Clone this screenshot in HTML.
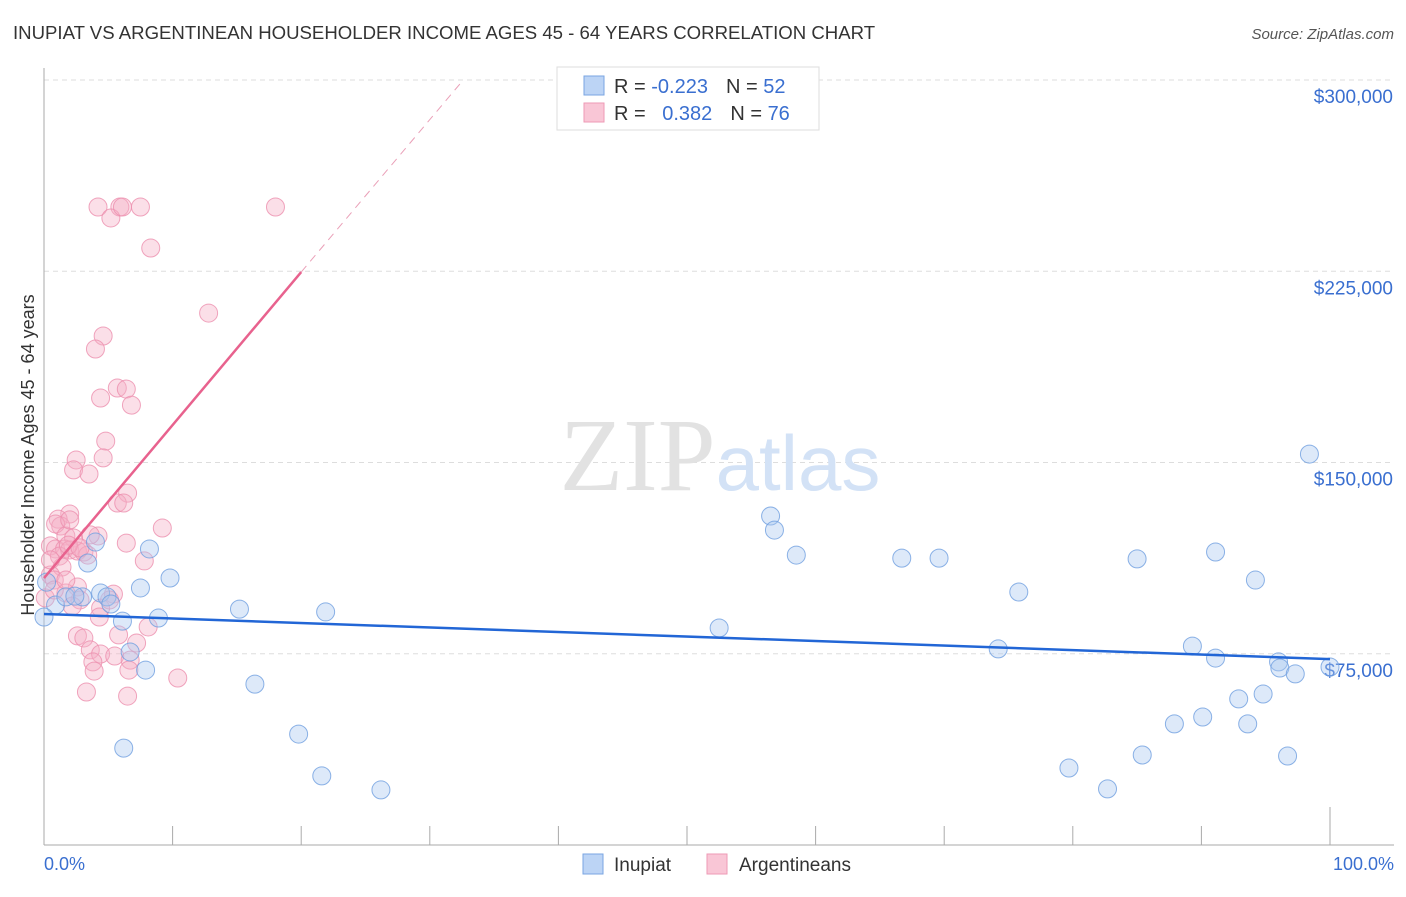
<!DOCTYPE html>
<html><head><meta charset="utf-8"><style>
body{margin:0;background:#fff;font-family:"Liberation Sans",sans-serif}
</style></head><body>
<svg id="chart" width="1406" height="892" xmlns="http://www.w3.org/2000/svg" font-family="Liberation Sans, sans-serif">
<text x="13" y="39" font-size="18.6" fill="#333">INUPIAT VS ARGENTINEAN HOUSEHOLDER INCOME AGES 45 - 64 YEARS CORRELATION CHART</text>
<text x="1394" y="39" font-size="15" fill="#555" text-anchor="end" font-style="italic">Source: ZipAtlas.com</text>
<g id="grid"></g>
<text x="720" y="490" font-size="104" text-anchor="middle" fill="#e2e2e2" font-family="Liberation Serif, serif">ZIP<tspan fill="#d3e2f6" font-family="Liberation Sans, sans-serif" font-size="78">atlas</tspan></text>
<g id="axes"></g>
<g id="marks"></g>
<text transform="translate(34,455) rotate(-90)" font-size="18" fill="#333" text-anchor="middle">Householder Income Ages 45 - 64 years</text>
<text x="44" y="870" font-size="18" fill="#3a6fd0">0.0%</text>
<text x="1394" y="870" font-size="18" fill="#3a6fd0" text-anchor="end">100.0%</text>
<g>
<rect x="557" y="67" width="262" height="63" fill="#fff" stroke="#ddd"/>
<rect x="584" y="76" width="20" height="19" fill="#bcd4f5" stroke="#7aa5e2"/>
<rect x="584" y="103" width="20" height="19" fill="#f9c6d6" stroke="#ee9ab5"/>
<text x="614" y="93" font-size="20" fill="#333">R = <tspan fill="#3a6fd0">-0.223</tspan><tspan dx="18">N = </tspan><tspan fill="#3a6fd0">52</tspan></text>
<text x="614" y="120" font-size="20" fill="#333">R = <tspan fill="#3a6fd0" dx="11">0.382</tspan><tspan dx="18">N = </tspan><tspan fill="#3a6fd0">76</tspan></text>
</g>
<g>
<rect x="583" y="854" width="20" height="20" fill="#bcd4f5" stroke="#7aa5e2"/>
<text x="614" y="871" font-size="19" fill="#333">Inupiat</text>
<rect x="707" y="854" width="20" height="20" fill="#f9c6d6" stroke="#ee9ab5"/>
<text x="739" y="871" font-size="19" fill="#333">Argentineans</text>
</g>
</svg>
<script>
const yTicks=[75000,150000,225000,300000];
const yTickLabels=["$75,000","$150,000","$225,000","$300,000"];
const inupiatX=[0.9,1.7,3.0,3.4,4.0,4.4,4.9,5.2,6.1,6.2,6.7,7.5,7.9,8.2,8.9,9.8,15.2,16.4,19.8,21.6,21.9,26.2,52.5,56.5,56.8,58.5,66.7,69.6,74.2,75.8,79.7,82.7,85.0,85.4,87.9,89.3,90.1,91.1,91.1,92.9,93.6,94.2,94.8,96.0,96.1,96.7,97.3,98.4,100,0,0.2,2.4];
const inupiatY=[94100,97300,97300,110600,118800,98800,97300,94500,87800,38000,75700,100800,68600,116100,89000,104700,92500,63100,43500,27100,91400,21600,85100,129000,123500,113700,112500,112500,76900,99200,30200,22000,112200,35300,47500,78000,50200,73300,114900,57300,47500,103900,59200,71800,69400,34900,67100,153300,69800,89400,103100,97600];
const argX=[4.2,5.9,5.2,6.1,7.5,18.0,8.3,12.8,4.6,4.0,5.7,6.4,4.4,6.8,4.8,4.6,2.5,2.3,3.5,6.5,5.7,6.2,2.0,1.1,1.3,0.9,9.2,4.2,3.6,1.7,2.3,0.5,0.9,1.6,2.0,2.6,3.1,1.2,6.4,3.4,7.8,1.4,0.5,0.8,2.6,1.7,5.4,2.8,2.2,4.4,8.1,4.3,2.6,3.1,5.8,7.2,3.6,4.4,5.5,6.7,3.8,3.9,6.6,10.4,3.3,6.5,0.5,0.1,0.8,1.9,2.8,1.7,5.1,2.0];
const argY=[250200,250200,245900,250200,250200,250200,234100,208600,199600,194500,179200,178800,175300,172500,158400,151800,151000,147100,145500,138000,134100,134100,129800,127800,125100,125900,124300,121200,121600,121200,120400,117300,116100,116100,115700,115300,114900,113300,118400,113700,111400,109000,105900,103900,101200,98800,98400,96100,93700,92900,85500,89400,82000,81200,82400,79200,76500,74900,74100,72500,71800,68200,68600,65500,60000,58400,111800,96900,100000,117600,116500,103900,96100,127500];
const inupiatTrend=[[0,90600],[100,72900]];
const argTrendSolid=[[0,104700],[20,224700]];
const argTrendDash=[[20,224700],[32.6,300000]];

const NS="http://www.w3.org/2000/svg";
const X=p=>44+p*12.86;
const Y=v=>845-v*765/300000;
function mk(tag,attrs,parent){const e=document.createElementNS(NS,tag);for(const k in attrs)e.setAttribute(k,attrs[k]);parent.appendChild(e);return e;}
const grid=document.getElementById('grid'),axes=document.getElementById('axes'),marks=document.getElementById('marks');
yTicks.forEach((t,i)=>{
  const l=mk('line',{x1:44,x2:1394,y1:Y(t),y2:Y(t),stroke:'#ddd','stroke-dasharray':'5,4'},grid);
  
  
  const tx=mk('text',{x:1393,y:Y(t)+23,'font-size':19,fill:'#3a6fd0','text-anchor':'end'},grid);
  tx.textContent=yTickLabels[i];
  
  
});
const ax=mk('line',{x1:44,x2:44,y1:68,y2:845,stroke:'#aaa'},axes);


const bx=mk('line',{x1:44,x2:1394,y1:845,y2:845,stroke:'#aaa'},axes);


for(let i=1;i<=10;i++){
  const tk=mk('line',{x1:X(i*10),x2:X(i*10),y1:(i==10?807:826),y2:845,stroke:'#aaa'},axes);
  
  
}
function dots(xs,ys,fill,stroke,name){
  xs.forEach((x,i)=>{
    const c=mk('circle',{cx:X(x),cy:Y(ys[i]),r:9,fill:fill,'fill-opacity':0.4,stroke:stroke,'stroke-opacity':0.8,'stroke-width':1},marks);
    
    
  });
}
dots(argX,argY,'#f5b0c6','#ec8eae','argentinean-point');
dots(inupiatX,inupiatY,'#a9c9f0','#6f9fe0','inupiat-point');
function line(pts,stroke,w,dash,name){
  const a={x1:X(pts[0][0]),y1:Y(pts[0][1]),x2:X(pts[1][0]),y2:Y(pts[1][1]),stroke:stroke,'stroke-width':w};
  if(dash)a['stroke-dasharray']=dash;
  const l=mk('line',a,marks);
  
  
}
line(inupiatTrend,'#2266d6',2.5,null,'inupiat-trend-line');
line(argTrendSolid,'#e8628e',2.5,null,'argentinean-trend-line');
line(argTrendDash,'#eaa0b8',1,'8,6','argentinean-trend-extension');
</script>
</body></html>
